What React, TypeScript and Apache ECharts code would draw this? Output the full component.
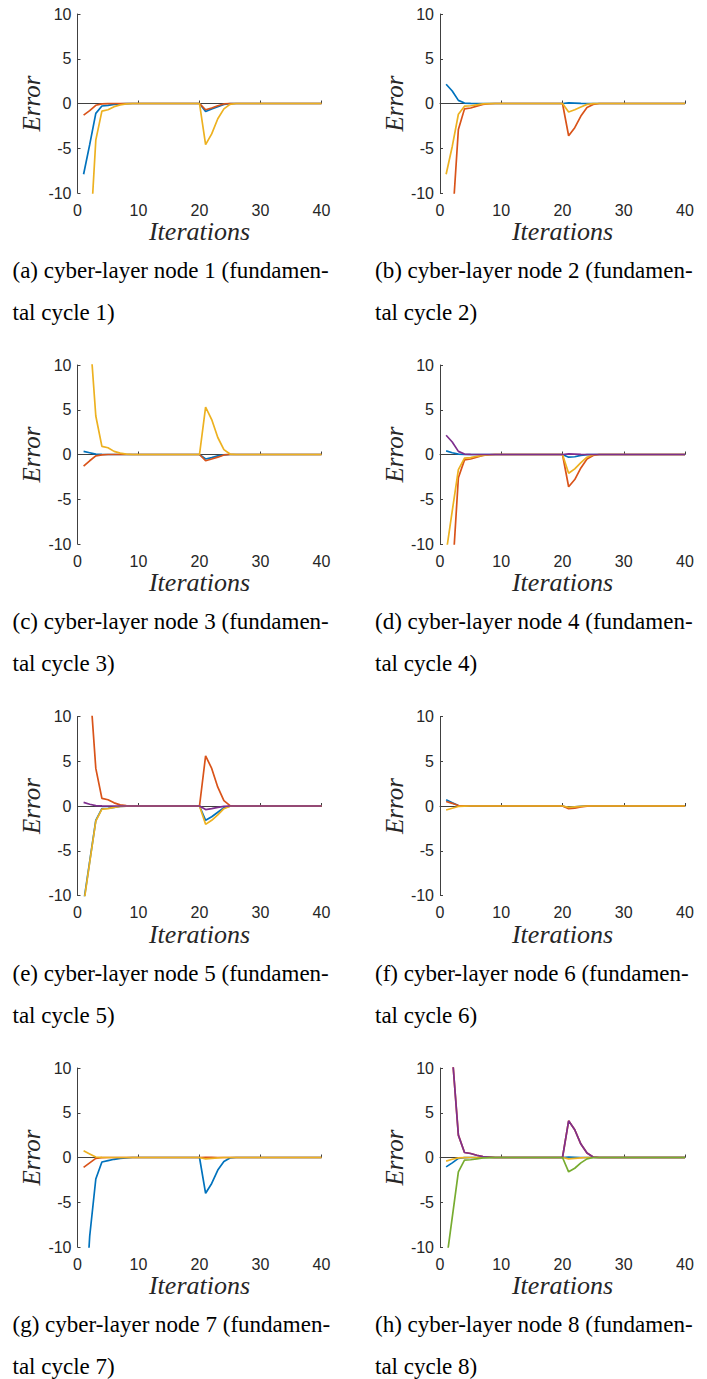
import React, { useEffect, useRef } from "react";
import * as echarts from "echarts";

const ITER = [1, 2, 3, 4, 5, 6, 7, 8, 9, 10, 11, 12, 13, 14, 15, 16, 17, 18, 19, 20, 21, 22, 23, 24, 25, 26, 27, 28, 29, 30, 31, 32, 33, 34, 35, 36, 37, 38, 39, 40];
const X_TICKS = [0, 10, 20, 30, 40];
const Y_TICKS = [-10, -5, 0, 5, 10];

// (a) node 1
const A_BLUE = [-7.9, -4.6, -1.1, -0.28, -0.2, -0.1, -0.05, -0.02, 0, 0, 0, 0, 0, 0, 0, 0, 0, 0, 0, 0, -0.9, -0.6, -0.35, -0.1, -0.02, 0, 0, 0, 0, 0, 0, 0, 0, 0, 0, 0, 0, 0, 0, 0];
const A_RED = [-1.3, -0.8, -0.2, -0.05, -0.02, 0, 0, 0, 0, 0, 0, 0, 0, 0, 0, 0, 0, 0, 0, 0, -0.7, -0.5, -0.25, -0.05, 0, 0, 0, 0, 0, 0, 0, 0, 0, 0, 0, 0, 0, 0, 0, 0];
const A_YELLOW = [-20, -15.9, -4.1, -0.85, -0.7, -0.35, -0.15, -0.05, 0, 0, 0, 0, 0, 0, 0, 0, 0, 0, 0, 0, -4.6, -3.4, -1.7, -0.6, -0.1, 0, 0, 0, 0, 0, 0, 0, 0, 0, 0, 0, 0, 0, 0, 0];

// (b) node 2
const B_BLUE = [2.15, 1.4, 0.35, 0.05, 0.02, 0, 0, 0, 0, 0, 0, 0, 0, 0, 0, 0, 0, 0, 0, 0, 0.08, 0.05, 0.02, 0, 0, 0, 0, 0, 0, 0, 0, 0, 0, 0, 0, 0, 0, 0, 0, 0];
const B_RED = [-25, -13.5, -2.9, -0.6, -0.5, -0.3, -0.1, -0.03, 0, 0, 0, 0, 0, 0, 0, 0, 0, 0, 0, 0, -3.6, -2.7, -1.4, -0.45, -0.1, 0, 0, 0, 0, 0, 0, 0, 0, 0, 0, 0, 0, 0, 0, 0];
const B_YELLOW = [-7.9, -4.8, -1.2, -0.3, -0.25, -0.15, -0.05, -0.02, 0, 0, 0, 0, 0, 0, 0, 0, 0, 0, 0, 0, -0.95, -0.7, -0.4, -0.1, -0.02, 0, 0, 0, 0, 0, 0, 0, 0, 0, 0, 0, 0, 0, 0, 0];

// (c) node 3
const C_BLUE = [0.35, 0.2, 0.05, 0.02, 0, 0, 0, 0, 0, 0, 0, 0, 0, 0, 0, 0, 0, 0, 0, 0, -0.5, -0.35, -0.15, -0.05, 0, 0, 0, 0, 0, 0, 0, 0, 0, 0, 0, 0, 0, 0, 0, 0];
const C_RED = [-1.3, -0.7, -0.15, -0.05, 0, 0, 0, 0, 0, 0, 0, 0, 0, 0, 0, 0, 0, 0, 0, 0, -0.7, -0.5, -0.3, -0.05, 0, 0, 0, 0, 0, 0, 0, 0, 0, 0, 0, 0, 0, 0, 0, 0];
const C_YELLOW = [20, 13.8, 4.3, 0.9, 0.75, 0.35, 0.15, 0.05, 0, 0, 0, 0, 0, 0, 0, 0, 0, 0, 0, 0, 5.3, 3.9, 1.9, 0.55, 0.05, 0, 0, 0, 0, 0, 0, 0, 0, 0, 0, 0, 0, 0, 0, 0];

// (d) node 4
const D_BLUE = [0.4, 0.2, 0.05, 0.02, 0, 0, 0, 0, 0, 0, 0, 0, 0, 0, 0, 0, 0, 0, 0, 0, -0.3, -0.25, -0.1, -0.02, 0, 0, 0, 0, 0, 0, 0, 0, 0, 0, 0, 0, 0, 0, 0, 0];
const D_RED = [-25, -13.7, -2.6, -0.6, -0.5, -0.3, -0.1, -0.03, 0, 0, 0, 0, 0, 0, 0, 0, 0, 0, 0, 0, -3.6, -2.8, -1.5, -0.5, -0.1, 0, 0, 0, 0, 0, 0, 0, 0, 0, 0, 0, 0, 0, 0, 0];
const D_YELLOW = [-11, -6.3, -1.7, -0.4, -0.35, -0.2, -0.1, -0.03, 0, 0, 0, 0, 0, 0, 0, 0, 0, 0, 0, 0, -2.1, -1.6, -0.9, -0.3, -0.03, 0, 0, 0, 0, 0, 0, 0, 0, 0, 0, 0, 0, 0, 0, 0];
const D_PURPLE = [2.15, 1.4, 0.35, 0.05, 0.02, 0, 0, 0, 0, 0, 0, 0, 0, 0, 0, 0, 0, 0, 0, 0, 0.08, 0.05, 0.02, 0, 0, 0, 0, 0, 0, 0, 0, 0, 0, 0, 0, 0, 0, 0, 0, 0];

// (e) node 5
const E_BLUE = [-10.8, -6.2, -1.6, -0.3, -0.25, -0.15, -0.05, -0.02, 0, 0, 0, 0, 0, 0, 0, 0, 0, 0, 0, 0, -1.6, -1.2, -0.7, -0.2, -0.02, 0, 0, 0, 0, 0, 0, 0, 0, 0, 0, 0, 0, 0, 0, 0];
const E_RED = [20, 13.9, 4.2, 0.85, 0.7, 0.35, 0.12, 0.05, 0, 0, 0, 0, 0, 0, 0, 0, 0, 0, 0, 0, 5.6, 4.2, 2.1, 0.6, 0.05, 0, 0, 0, 0, 0, 0, 0, 0, 0, 0, 0, 0, 0, 0, 0];
const E_YELLOW = [-11, -6.3, -1.7, -0.35, -0.3, -0.15, -0.05, -0.02, 0, 0, 0, 0, 0, 0, 0, 0, 0, 0, 0, 0, -2.05, -1.6, -1.0, -0.3, -0.03, 0, 0, 0, 0, 0, 0, 0, 0, 0, 0, 0, 0, 0, 0, 0];
const E_PURPLE = [0.4, 0.2, 0.05, 0.02, 0, 0, 0, 0, 0, 0, 0, 0, 0, 0, 0, 0, 0, 0, 0, 0, -0.4, -0.3, -0.15, -0.05, 0, 0, 0, 0, 0, 0, 0, 0, 0, 0, 0, 0, 0, 0, 0, 0];

// (f) node 6
const F_BLUE = [0.7, 0.35, 0.05, 0.01, 0, 0, 0, 0, 0, 0, 0, 0, 0, 0, 0, 0, 0, 0, 0, 0, -0.2, -0.1, -0.03, 0, 0, 0, 0, 0, 0, 0, 0, 0, 0, 0, 0, 0, 0, 0, 0, 0];
const F_RED = [0.5, 0.3, 0.05, 0.01, 0, 0, 0, 0, 0, 0, 0, 0, 0, 0, 0, 0, 0, 0, 0, 0, -0.3, -0.25, -0.1, -0.02, 0, 0, 0, 0, 0, 0, 0, 0, 0, 0, 0, 0, 0, 0, 0, 0];
const F_YELLOW = [-0.45, -0.25, -0.05, -0.01, 0, 0, 0, 0, 0, 0, 0, 0, 0, 0, 0, 0, 0, 0, 0, 0, -0.15, -0.1, -0.05, 0, 0, 0, 0, 0, 0, 0, 0, 0, 0, 0, 0, 0, 0, 0, 0, 0];

// (g) node 7
const G_BLUE = [-20, -8.8, -2.4, -0.5, -0.35, -0.2, -0.1, -0.05, 0, 0, 0, 0, 0, 0, 0, 0, 0, 0, 0, 0, -4.0, -2.9, -1.4, -0.45, -0.05, 0, 0, 0, 0, 0, 0, 0, 0, 0, 0, 0, 0, 0, 0, 0];
const G_RED = [-1.1, -0.6, -0.1, -0.02, 0, 0, 0, 0, 0, 0, 0, 0, 0, 0, 0, 0, 0, 0, 0, 0, 0.03, 0.02, 0, 0, 0, 0, 0, 0, 0, 0, 0, 0, 0, 0, 0, 0, 0, 0, 0, 0];
const G_YELLOW = [0.75, 0.4, 0.05, 0.01, 0, 0, 0, 0, 0, 0, 0, 0, 0, 0, 0, 0, 0, 0, 0, 0, -0.15, -0.1, -0.05, 0, 0, 0, 0, 0, 0, 0, 0, 0, 0, 0, 0, 0, 0, 0, 0, 0];

// (h) node 8
const H_BLUE = [-1.05, -0.6, -0.1, -0.02, 0, 0, 0, 0, 0, 0, 0, 0, 0, 0, 0, 0, 0, 0, 0, 0, 0.05, 0.03, 0, 0, 0, 0, 0, 0, 0, 0, 0, 0, 0, 0, 0, 0, 0, 0, 0, 0];
const H_RED = [25, 11.5, 2.5, 0.56, 0.45, 0.25, 0.1, 0.05, 0, 0, 0, 0, 0, 0, 0, 0, 0, 0, 0, 0, 4.1, 3.1, 1.5, 0.5, 0.05, 0, 0, 0, 0, 0, 0, 0, 0, 0, 0, 0, 0, 0, 0, 0];
const H_YELLOW = [-0.4, -0.2, -0.05, -0.01, 0, 0, 0, 0, 0, 0, 0, 0, 0, 0, 0, 0, 0, 0, 0, 0, -0.15, -0.1, -0.05, 0, 0, 0, 0, 0, 0, 0, 0, 0, 0, 0, 0, 0, 0, 0, 0, 0];
const H_PURPLE = [25, 11.5, 2.5, 0.56, 0.45, 0.25, 0.1, 0.05, 0, 0, 0, 0, 0, 0, 0, 0, 0, 0, 0, 0, 4.1, 3.1, 1.5, 0.5, 0.05, 0, 0, 0, 0, 0, 0, 0, 0, 0, 0, 0, 0, 0, 0, 0];
const H_GREEN = [-11.8, -6.7, -1.6, -0.3, -0.25, -0.15, -0.05, -0.02, 0, 0, 0, 0, 0, 0, 0, 0, 0, 0, 0, 0, -1.6, -1.2, -0.6, -0.15, 0, 0, 0, 0, 0, 0, 0, 0, 0, 0, 0, 0, 0, 0, 0, 0];

const BLUE = "#0072BD";
const RED = "#D95319";
const YELLOW = "#EDB120";
const PURPLE = "#7E2F8E";
const GREEN = "#77AC30";

const PANELS = [
  { letter: "a", node: 1, lines: [[A_BLUE, BLUE], [A_RED, RED], [A_YELLOW, YELLOW]] },
  { letter: "b", node: 2, lines: [[B_BLUE, BLUE], [B_RED, RED], [B_YELLOW, YELLOW]] },
  { letter: "c", node: 3, lines: [[C_BLUE, BLUE], [C_RED, RED], [C_YELLOW, YELLOW]] },
  { letter: "d", node: 4, lines: [[D_BLUE, BLUE], [D_RED, RED], [D_YELLOW, YELLOW], [D_PURPLE, PURPLE]] },
  { letter: "e", node: 5, lines: [[E_BLUE, BLUE], [E_RED, RED], [E_YELLOW, YELLOW], [E_PURPLE, PURPLE]] },
  { letter: "f", node: 6, lines: [[F_BLUE, BLUE], [F_RED, RED], [F_YELLOW, YELLOW]] },
  { letter: "g", node: 7, lines: [[G_BLUE, BLUE], [G_RED, RED], [G_YELLOW, YELLOW]] },
  { letter: "h", node: 8, lines: [[H_BLUE, BLUE], [H_RED, RED], [H_YELLOW, YELLOW], [H_PURPLE, PURPLE], [H_GREEN, GREEN]] },
];

const ROW_TOPS = [14, 365, 716.5, 1068];
const COL_LEFTS = [77.5, 440];
const COL_WIDTHS = [244, 245];
const CAPTION_LEFTS = [12.5, 375];
const PLOT_H = 179;

const SANS = "'Liberation Sans', Arial, Helvetica, sans-serif";
const SERIF = "'Liberation Serif', 'Times New Roman', Times, serif";

export default function App() {
  const ref = useRef<HTMLDivElement>(null);
  useEffect(() => {
    if (!ref.current) return;
    const chart = echarts.init(ref.current, null, { renderer: "svg" });
    const grids: any[] = [];
    const xAxes: any[] = [];
    const yAxes: any[] = [];
    const series: any[] = [];
    const graphic: any[] = [];
    const axisColor = "#262626";
    PANELS.forEach((p, i) => {
      const row = Math.floor(i / 2);
      const col = i % 2;
      grids.push({
        left: COL_LEFTS[col],
        top: ROW_TOPS[row],
        width: COL_WIDTHS[col],
        height: PLOT_H,
        containLabel: false,
      });
      xAxes.push({
        type: "value",
        gridIndex: i,
        min: X_TICKS[0],
        max: X_TICKS[X_TICKS.length - 1],
        interval: X_TICKS[1] - X_TICKS[0],
        name: "Iterations",
        nameLocation: "middle",
        nameGap: 23,
        nameTextStyle: { fontFamily: SERIF, fontStyle: "italic", fontSize: 26, color: axisColor },
        axisLine: { show: true, lineStyle: { color: "#404040", width: 1 } },
        axisTick: { show: true, inside: true, length: 3, lineStyle: { color: "#404040" } },
        axisLabel: { fontFamily: SANS, fontSize: 16, color: axisColor, margin: 9 },
        splitLine: { show: false },
      });
      yAxes.push({
        type: "value",
        gridIndex: i,
        min: Y_TICKS[0],
        max: Y_TICKS[Y_TICKS.length - 1],
        interval: Y_TICKS[1] - Y_TICKS[0],
        name: "Error",
        nameLocation: "middle",
        nameGap: 33,
        nameTextStyle: { fontFamily: SERIF, fontStyle: "italic", fontSize: 25, color: axisColor },
        axisLine: { show: true, lineStyle: { color: "#404040", width: 1 } },
        axisTick: { show: true, inside: true, length: 3, lineStyle: { color: "#404040" } },
        axisLabel: { fontFamily: SANS, fontSize: 16, color: axisColor, margin: 6 },
        splitLine: { show: false },
      });
      p.lines.forEach(([vals, color]: any) => {
        series.push({
          type: "line",
          xAxisIndex: i,
          yAxisIndex: i,
          data: ITER.map((x, k) => [x, vals[k]]),
          showSymbol: false,
          symbol: "none",
          clip: true,
          lineStyle: { color, width: 1.7 },
          itemStyle: { color },
        });
      });
      const capTop = ROW_TOPS[row] + 256.5;
      graphic.push({
        type: "text",
        left: CAPTION_LEFTS[col],
        top: capTop - 11.5,
        style: {
          text: `(${p.letter}) cyber-layer node ${p.node} (fundamen-`,
          fontFamily: SERIF,
          fontSize: 23,
          fill: "#000",
        },
      });
      graphic.push({
        type: "text",
        left: CAPTION_LEFTS[col],
        top: capTop + 42 - 11.5,
        style: {
          text: `tal cycle ${p.node})`,
          fontFamily: SERIF,
          fontSize: 23,
          fill: "#000",
        },
      });
    });
    chart.setOption({
      animation: false,
      backgroundColor: "#ffffff",
      grid: grids,
      xAxis: xAxes,
      yAxis: yAxes,
      series,
      graphic,
    });
    return () => chart.dispose();
  }, []);
  return (
    <div
      ref={ref}
      style={{ position: "absolute", left: 0, top: 0, width: 707, height: 1379 }}
    />
  );
}
